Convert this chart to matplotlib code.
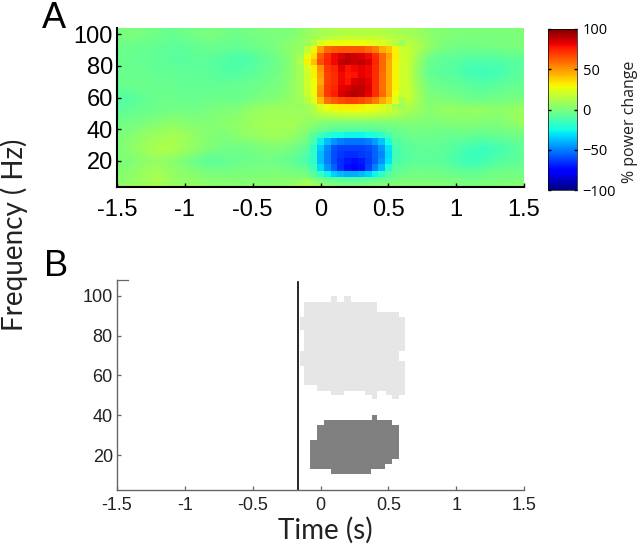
import numpy as np
import matplotlib
matplotlib.use("Agg")
import matplotlib.pyplot as plt

times = [round(-1.5 + 0.1 * i, 1) for i in range(31)]
freqs = [100, 92, 84, 76, 68, 60, 52, 44, 36, 28, 20, 12, 4]
power = [
    [-1,0,-1,-3,-5,-3,-1,0,-2,-3,-1,0,0,1,6, 10,12,14,14,14,12,10,8,4,2,1,0,0,0,0,1],
    [-3,-4,-5,-6,-7,-7,-5,-4,-5,-6,-4,-2,1,5,12, 20,24,26,26,26,24,20,14,6,0,-2,-2,-2,-1,0,0],
    [-4,-5,-6,-7,-8,-8,-7,-8,-10,-12,-10,-6,-2,5,14, 40,50,55,55,50,40,26,10,-4,-7,-8,-10,-10,-10,-8,-7],
    [-4,-4,-5,-6,-6,-7,-7,-8,-10,-10,-8,-5,-2,5,14, 40,50,55,55,50,40,26,8,-6,-8,-10,-14,-15,-14,-10,-7],
    [-5,-4,-4,-5,-5,-6,-6,-6,-6,-5,-4,-2,0,5,14, 40,50,55,55,50,40,26,10,-2,-5,-6,-8,-10,-8,-6,-5],
    [-10,-9,-6,-4,-4,-5,-5,-4,-4,-4,-2,0,2,6,14, 40,50,55,55,50,40,26,12,1,0,-2,-4,-4,-3,-2,-2],
    [-8,-6,-5,-3,-2,-2,-2,0,1,2,6,8,8,8,8, 20,26,28,28,26,22,14,8,3,6,6,6,6,4,6,8],
    [-3,-2,0,2,4,3,2,2,4,5,8,10,10,10,6, 2,0,0,0,0,0,1,1,1,1,2,2,1,1,4,8],
    [0,2,6,8,10,8,4,2,1,4,6,8,8,6,0, -10,-14,-16,-16,-14,-10,-6,-3,-4,-5,-5,-5,-6,-5,-4,-2],
    [0,4,8,12,12,8,4,0,-2,-3,-2,1,1,-2,-8, -20,-30,-34,-34,-30,-20,-10,-7,-6,-7,-10,-14,-16,-14,-10,-6],
    [0,1,4,6,4,0,-5,-8,-6,-4,-3,-2,-4,-7,-12, -24,-34,-38,-38,-32,-22,-10,-7,-8,-8,-12,-16,-14,-10,-8,-6],
    [2,4,8,10,6,4,2,0,0,0,0,1,1,0,-2, -12,-18,-20,-20,-16,-10,-4,-2,-2,-3,-4,-6,-4,-2,-2,-2],
    [4,6,8,12,8,6,6,4,4,3,4,4,4,6,14, 8,4,2,2,4,4,3,2,2,2,1,1,1,1,2,2],
]

red_times = [-0.15, -0.1, -0.05, 0, 0.05, 0.1, 0.15, 0.2, 0.25, 0.3, 0.35, 0.4, 0.45, 0.5, 0.55, 0.6]
red_freqs = [94, 90, 86, 82, 78, 74, 70, 66, 62, 58, 54]
red_power = [
    [5,8,14,22,26,28,28,28,28,28,26,24,22,18,14,8],
    [6,16,30,48,60,62,64,64,64,64,60,55,45,40,30,18],
    [10,25,35,62,72,80,84,88,86,84,80,72,60,48,32,20],
    [12,30,42,65,74,80,88,90,86,88,84,74,60,46,30,20],
    [10,22,32,50,70,74,82,78,80,82,80,72,60,45,30,20],
    [10,20,30,48,68,72,80,76,78,82,80,72,58,45,30,20],
    [10,20,28,46,68,72,80,78,84,86,82,72,58,45,30,20],
    [10,20,28,50,70,74,82,84,88,88,84,72,58,45,30,20],
    [10,18,28,52,70,76,84,88,90,88,82,72,60,46,28,18],
    [8,14,24,42,58,62,66,68,68,66,62,56,46,38,24,12],
    [6,8,14,22,28,30,32,32,32,30,28,26,22,18,12,8],
]
blue_times = [-0.05, 0, 0.05, 0.1, 0.15, 0.2, 0.25, 0.3, 0.35, 0.4, 0.45, 0.5, 0.55]
blue_freqs = [36, 32, 28, 24, 20, 16, 12]
blue_power = [
    [-8,-14,-20,-24,-25,-26,-26,-26,-25,-22,-18,-12,-6],
    [-12,-28,-38,-46,-50,-52,-52,-52,-50,-44,-36,-25,-10],
    [-18,-35,-48,-58,-62,-62,-62,-62,-60,-55,-46,-30,-14],
    [-18,-38,-50,-60,-64,-66,-66,-64,-62,-55,-48,-32,-14],
    [-18,-38,-50,-60,-66,-70,-72,-70,-64,-56,-46,-30,-12],
    [-14,-32,-46,-56,-66,-72,-74,-72,-62,-50,-38,-22,-8],
    [-8,-16,-26,-34,-38,-40,-40,-38,-34,-26,-18,-10,-4],
]

# Panel B: significant clusters as stepped spans (f_low, f_high, t_start, t_end)
light_cluster = [
    (97.0, 99.9, 0.077, 0.124), (97.0, 99.9, 0.173, 0.222),
    (92.0, 97.0, -0.122, 0.419), (89.5, 92.0, -0.122, 0.578),
    (82.8, 89.5, -0.151, 0.623), (72.4, 82.8, -0.122, 0.623),
    (67.4, 72.4, -0.151, 0.578), (64.9, 67.4, -0.151, 0.623),
    (55.2, 64.9, -0.122, 0.623), (52.3, 55.2, -0.023, 0.623),
    (50.2, 52.3, 0.077, 0.173), (50.2, 52.3, 0.328, 0.419),
    (50.2, 52.3, 0.480, 0.623), (48.0, 50.2, 0.377, 0.419),
    (48.0, 50.2, 0.529, 0.578),
]
dark_cluster = [
    (37.6, 40.1, 0.377, 0.419), (35.1, 37.6, 0.026, 0.524),
    (27.5, 35.1, -0.023, 0.578), (17.8, 27.5, -0.075, 0.578),
    (15.3, 17.8, -0.075, 0.524), (12.8, 15.3, -0.075, 0.475),
    (10.3, 12.8, 0.077, 0.370),
]
stim_time = -0.165
x_ticks = [-1.5, -1, -0.5, 0, 0.5, 1, 1.5]
x_labels = ["-1.5", "-1", "-0.5", "0", "0.5", "1", "1.5"]
y_ticks = [20, 40, 60, 80, 100]
cb_ticks = [-100, -50, 0, 50, 100]

W, H = 640, 544
def rect(l, t, r, b):
    return [l / W, 1 - b / H, (r - l) / W, (b - t) / H]

plt.rcParams["font.family"] = ["Liberation Sans", "DejaVu Sans"]
fig = plt.figure(figsize=(6.4, 5.44), dpi=100, facecolor="white")

# Panel A
ax = fig.add_axes(rect(117, 28, 524, 187))
kw = dict(cmap="jet", vmin=-100, vmax=100, aspect="auto", origin="upper")
im = ax.imshow(np.array(power, float), interpolation="bilinear",
               extent=[times[0] - 0.05, times[-1] + 0.05, freqs[-1] - 4, freqs[0] + 4], **kw)
ax.imshow(np.array(red_power, float), interpolation="nearest",
          extent=[red_times[0] - 0.025, red_times[-1] + 0.025, red_freqs[-1] - 2, red_freqs[0] + 2], **kw)
ax.imshow(np.array(blue_power, float), interpolation="nearest",
          extent=[blue_times[0] - 0.025, blue_times[-1] + 0.025, blue_freqs[-1] - 2, blue_freqs[0] + 2], **kw)
ax.set_xlim(-1.5, 1.5)
ax.set_ylim(3.6, 103.8)
ax.set_xticks(x_ticks, x_labels)
ax.set_yticks(y_ticks)
ax.tick_params(direction="in", length=3, width=1, labelsize=17)
ax.tick_params(axis="x", pad=9)
ax.tick_params(axis="y", pad=3)
ax.spines[["top", "right"]].set_visible(False)
for s in ("left", "bottom"):
    ax.spines[s].set_linewidth(1.5)

# Colorbar
cax = fig.add_axes(rect(548, 29, 577, 190))
cb = fig.colorbar(im, cax=cax)
cb.set_ticks(cb_ticks)
cax.tick_params(axis="y", direction="in", length=2, width=1, left=True, right=True,
                labelsize=10.5, pad=4, labelfontfamily="Open Sans")
cb.outline.set_linewidth(0.5)
fig.text(630 / W, 1 - 122 / H, "% power change", rotation=90, ha="center", va="center",
         fontsize=11.5, family="Open Sans", color="#222222")

# Panel B
bx = fig.add_axes(rect(117, 280, 524, 490))
for clusters, col in ((light_cluster, "#e6e6e6"), (dark_cluster, "#808080")):
    for f0, f1, t0, t1 in clusters:
        bx.fill_between([t0, t1], f0, f1, color=col, lw=0)
bx.axvline(stim_time, color="black", lw=1.2, ymax=0.99)
bx.set_xlim(-1.5, 1.5)
bx.set_ylim(2.4, 108)
bx.set_xticks(x_ticks, x_labels)
bx.set_yticks(y_ticks)
bx.tick_params(direction="in", length=3, width=0.9, color="#666666", labelsize=13, labelcolor="#222222")
bx.tick_params(axis="x", pad=5)
bx.tick_params(axis="y", pad=3)
bx.plot([0, 0.027], [1, 1], transform=bx.transAxes, color="#666666", lw=0.9, clip_on=False)
bx.spines[["top", "right"]].set_visible(False)
for s in ("left", "bottom"):
    bx.spines[s].set_linewidth(1)
    bx.spines[s].set_color("#666666")

fig.text(14 / W, 1 - 235 / H, "Frequency ( Hz)", rotation=90, ha="center", va="center",
         fontsize=20, family="Lato", color="#222222")
fig.text(325 / W, 1 - 530 / H, "Time (s)", ha="center", va="center",
         fontsize=20, family="Lato", color="#222222")
fig.text(54 / W, 1 - 28 / H, "A", ha="center", va="baseline", fontsize=26)
fig.text(56 / W, 1 - 276 / H, "B", ha="center", va="baseline", fontsize=26)

fig.savefig("out.png", dpi=100)
